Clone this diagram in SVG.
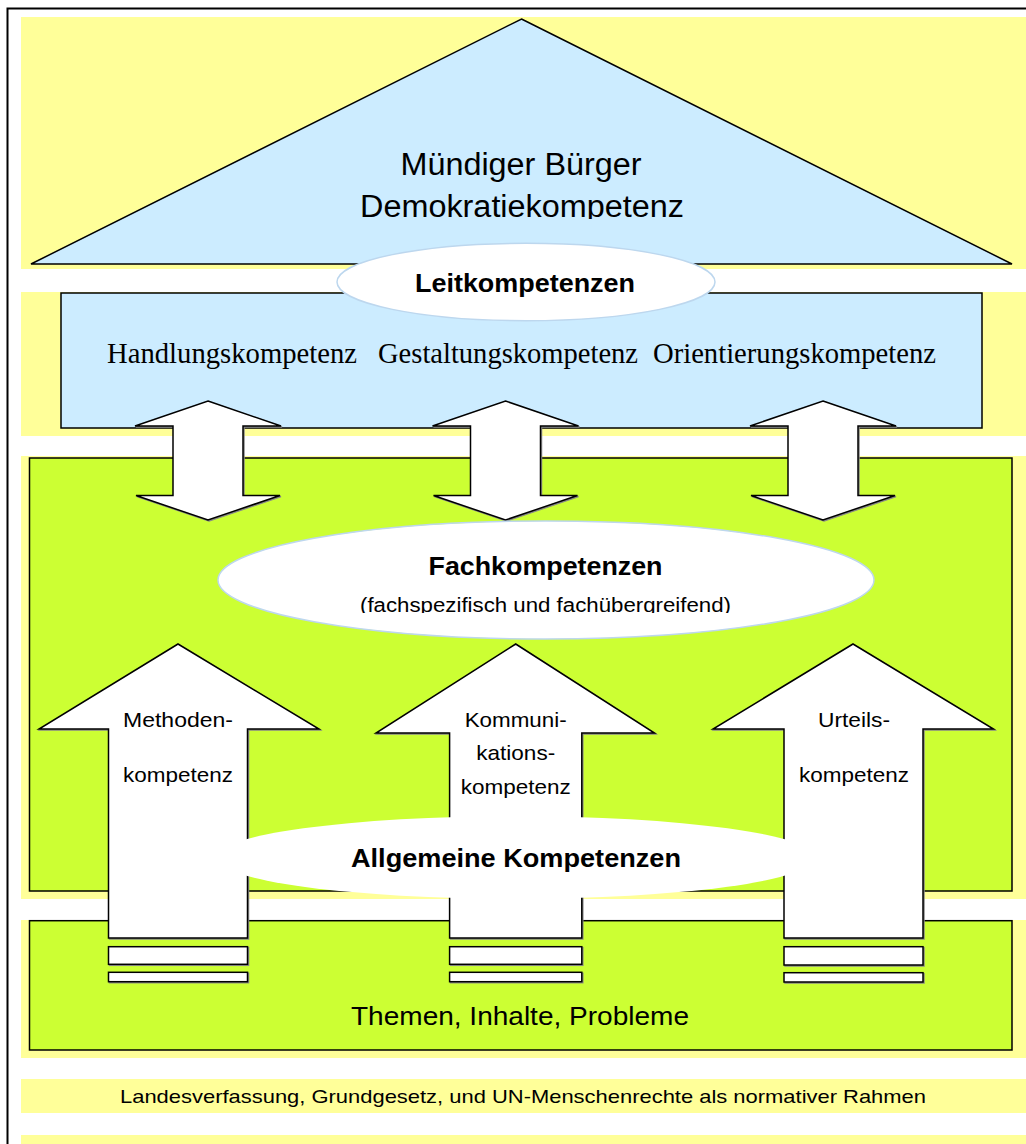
<svg xmlns="http://www.w3.org/2000/svg" width="1026" height="1144" viewBox="0 0 1026 1144">
<style>
.band{fill:#FFFF99}
.blue{fill:#CCECFF;stroke:#000;stroke-width:1.5}
.green{fill:#CCFF33;stroke:#000;stroke-width:1.5}
.wht{fill:#fff;stroke:#000;stroke-width:1.5;stroke-linejoin:miter}
.shadow{fill:#888;stroke:#888;stroke-width:1.5}
.ell{fill:#fff;stroke:#BDD7EE;stroke-width:1.5}
.sans{font-family:"Liberation Sans",Arial,sans-serif;fill:#000;text-anchor:middle}
.serif{font-family:"Liberation Serif","Times New Roman",serif;fill:#000;text-anchor:middle}
.b{font-weight:bold}
</style>
<defs>
<clipPath id="clipTri"><rect x="0" y="0" width="1026" height="219"/></clipPath>
<clipPath id="clipFach"><rect x="0" y="0" width="1026" height="613"/></clipPath>
<path id="dbl" d="M0,0 L73,25 L35,25 L35,94.5 L72,94.5 L0,119 L-72,94.5 L-35,94.5 L-35,25 L-73,25 Z"/>
</defs>
<rect x="0" y="0" width="1026" height="1144" fill="#fff"/>
<rect x="7.5" y="8.5" width="1030" height="1150" fill="none" stroke="#000" stroke-width="2"/>
<g id="bands">
<rect class="band" x="21" y="17" width="1010" height="252"/>
<rect class="band" x="21" y="292" width="1010" height="144"/>
<rect class="band" x="21" y="456" width="1010" height="443"/>
<rect class="band" x="21" y="920" width="1010" height="138"/>
<rect class="band" x="21" y="1079" width="1010" height="34"/>
<rect class="band" x="21" y="1135" width="1010" height="10"/>
</g>
<g id="roof">
<polygon points="521.5,19 1012,264 31,264" class="blue"/>
<g clip-path="url(#clipTri)">
<text class="sans" x="521" y="175" font-size="31" textLength="241" lengthAdjust="spacingAndGlyphs">Mündiger Bürger</text>
<text class="sans" x="522" y="217" font-size="31" textLength="324" lengthAdjust="spacingAndGlyphs">Demokratiekompetenz</text>
</g>
</g>
<g id="leit-box">
<rect class="blue" x="61" y="293" width="921" height="135"/>
<text class="serif" x="232" y="363" font-size="28.5" textLength="250" lengthAdjust="spacingAndGlyphs">Handlungskompetenz</text>
<text class="serif" x="508" y="363" font-size="28.5" textLength="260" lengthAdjust="spacingAndGlyphs">Gestaltungskompetenz</text>
<text class="serif" x="794.5" y="363" font-size="28.5" textLength="283" lengthAdjust="spacingAndGlyphs">Orientierungskompetenz</text>
</g>
<g id="fach-area">
<rect class="green" x="29.5" y="458" width="982.5" height="433"/>
</g>
<g id="connectors">
<use href="#dbl" x="209" y="402" class="shadow"/>
<use href="#dbl" x="208" y="401" class="wht"/>
<use href="#dbl" x="506.5" y="402" class="shadow"/>
<use href="#dbl" x="505.5" y="401" class="wht"/>
<use href="#dbl" x="824" y="402" class="shadow"/>
<use href="#dbl" x="823" y="401" class="wht"/>
</g>
<g id="fachkompetenzen">
<ellipse class="ell" cx="546" cy="580" rx="328" ry="59"/>
<text class="sans b" x="545.5" y="575" font-size="25" textLength="234" lengthAdjust="spacingAndGlyphs">Fachkompetenzen</text>
<g clip-path="url(#clipFach)">
<text class="sans" x="545.5" y="611.5" font-size="20" textLength="371" lengthAdjust="spacingAndGlyphs">(fachspezifisch und fachübergreifend)</text>
</g>
</g>
<g id="themen">
<rect class="green" x="29.5" y="920.7" width="982.5" height="129.3"/>
<text class="sans" x="520" y="1025" font-size="26" textLength="338" lengthAdjust="spacingAndGlyphs">Themen, Inhalte, Probleme</text>
</g>
<g id="methodenkompetenz">
<path class="shadow" d="M179,645 L320,730 L248.5,730 L248.5,939 L109.5,939 L109.5,730 L40,730 Z"/>
<path class="wht" d="M178,644 L319,729 L247.5,729 L247.5,938 L108.5,938 L108.5,729 L39,729 Z"/>
<rect class="shadow" x="109.5" y="947.7" width="139" height="17.6"/>
<rect class="wht" x="108.5" y="946.7" width="139" height="17.6"/>
<rect class="shadow" x="109.5" y="973.3" width="139" height="9.4"/>
<rect class="wht" x="108.5" y="972.3" width="139" height="9.4"/>
<text class="sans" x="178" y="726.7" font-size="21" textLength="110" lengthAdjust="spacingAndGlyphs">Methoden-</text>
<text class="sans" x="178" y="781.7" font-size="21" textLength="110" lengthAdjust="spacingAndGlyphs">kompetenz</text>
</g>
<g id="kommunikationskompetenz">
<path class="shadow" d="M516.7,645 L655.5,734 L582.8,734 L582.8,939 L450.6,939 L450.6,734 L377,734 Z"/>
<path class="wht" d="M515.7,644 L654.5,733 L581.8,733 L581.8,938 L449.6,938 L449.6,733 L376,733 Z"/>
<rect class="shadow" x="450.6" y="947.7" width="132.2" height="17.6"/>
<rect class="wht" x="449.6" y="946.7" width="132.2" height="17.6"/>
<rect class="shadow" x="450.6" y="973.3" width="132.2" height="9.4"/>
<rect class="wht" x="449.6" y="972.3" width="132.2" height="9.4"/>
<text class="sans" x="515.7" y="726.7" font-size="21" textLength="102" lengthAdjust="spacingAndGlyphs">Kommuni-</text>
<text class="sans" x="515.7" y="760" font-size="21" textLength="79" lengthAdjust="spacingAndGlyphs">kations-</text>
<text class="sans" x="515.7" y="794.3" font-size="21" textLength="110" lengthAdjust="spacingAndGlyphs">kompetenz</text>
</g>
<g id="urteilskompetenz">
<path class="shadow" d="M854,645 L994.5,730 L924,730 L924,939 L785,939 L785,730 L714,730 Z"/>
<path class="wht" d="M853,644 L993.5,729 L923,729 L923,938 L784,938 L784,729 L713,729 Z"/>
<rect class="shadow" x="785" y="947.7" width="139" height="18.3"/>
<rect class="wht" x="784" y="946.7" width="139" height="18.3"/>
<rect class="shadow" x="785" y="973.7" width="139" height="9.3"/>
<rect class="wht" x="784" y="972.7" width="139" height="9.3"/>
<text class="sans" x="854" y="726.7" font-size="21" textLength="72" lengthAdjust="spacingAndGlyphs">Urteils-</text>
<text class="sans" x="854" y="781.7" font-size="21" textLength="110" lengthAdjust="spacingAndGlyphs">kompetenz</text>
</g>
<g id="allgemeine-kompetenzen">
<ellipse cx="515.5" cy="857.5" rx="300" ry="41.3" fill="#fff"/>
<text class="sans b" x="516" y="866.7" font-size="26" textLength="330" lengthAdjust="spacingAndGlyphs">Allgemeine Kompetenzen</text>
</g>
<g id="leitkompetenzen">
<ellipse class="ell" cx="526" cy="282" rx="189" ry="38.7"/>
<text class="sans b" x="525" y="291.5" font-size="26" textLength="220" lengthAdjust="spacingAndGlyphs">Leitkompetenzen</text>
</g>
<g id="rahmen">
<text class="sans" x="523" y="1102.7" font-size="19" textLength="806" lengthAdjust="spacingAndGlyphs">Landesverfassung, Grundgesetz, und UN-Menschenrechte als normativer Rahmen</text>
</g>
</svg>
